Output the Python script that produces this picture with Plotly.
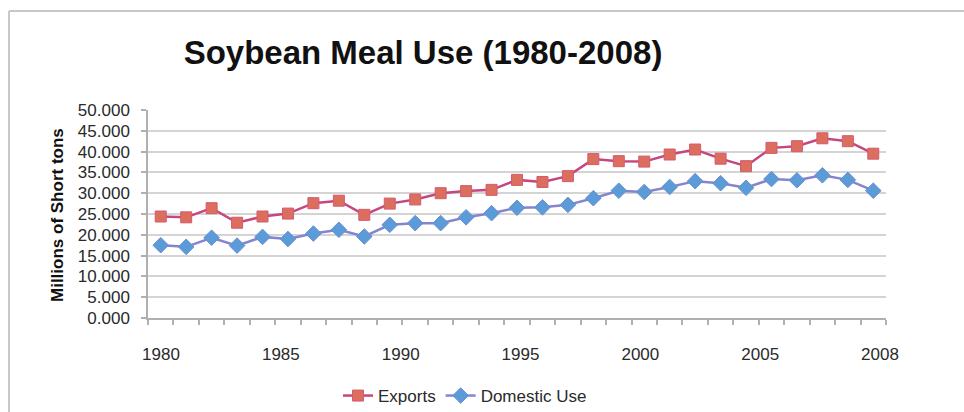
import plotly.graph_objects as go

years = list(range(1980, 2009))
exports = [24.4, 24.2, 26.4, 22.9, 24.4, 25.1, 27.6, 28.2, 24.8, 27.5,
           28.5, 30.0, 30.5, 30.8, 33.2, 32.7, 34.1, 38.2, 37.7, 37.6,
           39.3, 40.5, 38.3, 36.5, 40.9, 41.3, 43.2, 42.5, 39.5]
domestic = [17.5, 17.1, 19.3, 17.4, 19.5, 19.0, 20.3, 21.2, 19.6, 22.4,
            22.8, 22.8, 24.2, 25.2, 26.5, 26.6, 27.2, 28.8, 30.6, 30.3,
            31.5, 32.9, 32.4, 31.3, 33.4, 33.1, 34.3, 33.2, 30.6]
tick_labels = ["1980", "1985", "1990", "1995", "2000", "2005", "2008"]

FONT = "Liberation Sans, Arial, sans-serif"
W, H = 964, 412
L, R, T, B = 148, 78, 110, 94
PW, PH = W - L - R, H - T - B

fig = go.Figure()
fig.add_trace(go.Scatter(
    x=years, y=exports, name="Exports", mode="lines+markers",
    line=dict(color="#C6477F", width=2.5),
    marker=dict(symbol="square", size=11, color="#DC6E5E",
                line=dict(color="#D45A72", width=1)),
))
fig.add_trace(go.Scatter(
    x=years, y=domestic, name="Domestic Use", mode="lines+markers",
    line=dict(color="#8584CE", width=2.5),
    marker=dict(symbol="diamond", size=12, color="#5B9BD8",
                line=dict(color="#6A8FD0", width=1)),
))
# label-only axis carrying the year labels
fig.add_trace(go.Scatter(x=[], y=[], xaxis="x2", showlegend=False, hoverinfo="skip"))

fig.update_layout(
    width=W, height=H,
    margin=dict(l=L, r=R, t=T, b=B, autoexpand=False),
    paper_bgcolor="white", plot_bgcolor="white",
    font=dict(family=FONT, size=17, color="#2a2a2a"),
    title=dict(text="<b>Soybean Meal Use (1980-2008)</b>",
               font=dict(family=FONT, size=33, color="#111111"),
               x=(423 - L) / PW, xref="paper", xanchor="center",
               y=1 - 52 / H, yref="container", yanchor="middle"),
    xaxis=dict(range=[1979.5, 2008.5], tickmode="linear", tick0=1979.5, dtick=1,
               showticklabels=False, ticks="outside", ticklen=5, tickcolor="#b0b0b0",
               tickwidth=1.5, showline=True, linecolor="#b0b0b0", linewidth=1.5,
               showgrid=False, zeroline=False, automargin=False),
    xaxis2=dict(overlaying="x", anchor="y", side="bottom",
                range=[-0.1085, 6.05], tickmode="array",
                tickvals=list(range(len(tick_labels))), ticktext=tick_labels,
                ticks="outside", ticklen=21, tickcolor="rgba(0,0,0,0)",
                showline=False, showgrid=False, zeroline=False, automargin=False,
                tickfont=dict(size=17, color="#2a2a2a")),
    yaxis=dict(range=[0, 50], tickmode="linear", tick0=0, dtick=5,
               tickformat=".3f", ticks="outside", ticklen=5, tickcolor="#b0b0b0",
               tickwidth=1.5, showline=True, linecolor="#b0b0b0", linewidth=1.5,
               showgrid=True, gridcolor="#d4d4d4", gridwidth=2, zeroline=False,
               ticklabelstandoff=8, automargin=False,
               tickfont=dict(size=17, color="#2a2a2a")),
    legend=dict(orientation="h", x=(465 - L) / PW, xanchor="center",
                y=(T + PH - 396) / PH, yanchor="middle",
                font=dict(size=17, color="#2a2a2a"), itemwidth=30,
                traceorder="normal", bgcolor="rgba(0,0,0,0)"),
    annotations=[dict(text="<b>Millions of Short tons</b>", textangle=-90,
                      xref="paper", yref="paper", x=(57 - L) / PW, y=(T + PH - 215) / PH,
                      xanchor="center", yanchor="middle",
                      showarrow=False, font=dict(family=FONT, size=17, color="#111111"))],
    shapes=[
        dict(type="line", xref="paper", yref="paper",
             x0=(9 - L) / PW, x1=(9 - L) / PW, y0=(T + PH - 11) / PH, y1=(T + PH - 420) / PH,
             line=dict(color="#c8c8c8", width=2)),
        dict(type="line", xref="paper", yref="paper",
             x0=(9 - L) / PW, x1=(970 - L) / PW, y0=(T + PH - 11) / PH, y1=(T + PH - 11) / PH,
             line=dict(color="#c8c8c8", width=2)),
    ],
    showlegend=True,
)

fig.write_html("out.html")
